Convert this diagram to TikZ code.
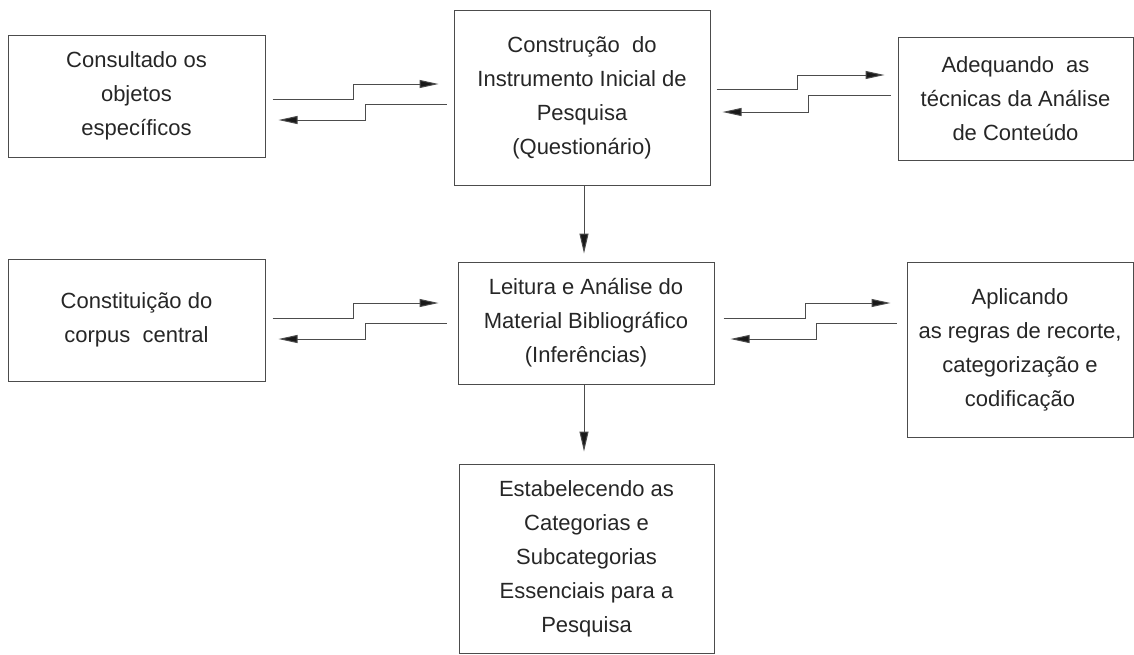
\documentclass[tikz,border=0pt]{standalone}
\usepackage{fontspec}
\setmainfont{Liberation Sans}
\usetikzlibrary{arrows.meta, calc}

\tikzset{
  box/.style={draw=black!70, line width=1pt, align=center, text=black!85,
    font=\fontsize{22}{34}\selectfont, inner sep=3pt},
  flow/.style={draw=black!70, line width=1pt,
    -{Triangle[length=19pt, width=8pt, fill=black!90]}},
}

\begin{document}
\begin{tikzpicture}[x=1pt, y=-1pt]
\useasboundingbox (0,0) rectangle (1134,654);
\node[box, minimum width=257, minimum height=122] (c1) at (136.5,96) {Consultado os\\objetos\\específicos};
\node[box, minimum width=256, minimum height=175] (c2) at (582,97.5) {Construção\ \ do\\Instrumento Inicial de\\Pesquisa\\(Questionário)};
\node[box, minimum width=235, minimum height=123] (c3) at (1015.5,98.5) {Adequando\ \ as\\técnicas da Análise\\de Conteúdo};
\node[box, minimum width=257, minimum height=122] (c4) at (136.5,320) {Constituição do\\corpus\ \ central};
\node[box, minimum width=256, minimum height=122] (c5) at (586,323) {Leitura e Análise do\\Material Bibliográfico\\(Inferências)};
\node[box, minimum width=226, minimum height=175] (c6) at (1020,349.5) {Aplicando\\as regras de recorte,\\categorização e\\codificação};
\node[box, minimum width=255, minimum height=189] (c7) at (586.5,558.5) {Estabelecendo as\\Categorias e\\Subcategorias\\Essenciais para a\\Pesquisa};
% top row
\draw[flow] ($(c1.east)+(7,3)$) -- ++(81,0) |- ($(c2.west)+(-15,-13.5)$);
\draw[flow] ($(c2.west)+(-7,6.5)$) -- ++(-81,0) |- ($(c1.east)+(13,24)$);
\draw[flow] ($(c2.east)+(6,-8.5)$) -- ++(81,0) |- ($(c3.west)+(-13,-23.5)$);
\draw[flow] ($(c3.west)+(-7,-3.5)$) -- ++(-82,0) |- ($(c2.east)+(12,14.5)$);
% middle row
\draw[flow] ($(c4.east)+(7,-2)$) -- ++(81,0) |- ($(c5.west)+(-19,-20)$);
\draw[flow] ($(c5.west)+(-11,0)$) -- ++(-81,0) |- ($(c4.east)+(13,19)$);
\draw[flow] ($(c5.east)+(9,-5)$) -- ++(82,0) |- ($(c6.west)+(-16,-46.5)$);
\draw[flow] ($(c6.west)+(-10,-26.5)$) -- ++(-80,0) |- ($(c5.east)+(16,16)$);
% down
\draw[flow, -{Triangle[length=20pt, width=9pt, fill=black!90]}] ($(c2.south)+(2,0)$) -- ($(c5.north)+(-2,-8)$);
\draw[flow, -{Triangle[length=20pt, width=9pt, fill=black!90]}] ($(c5.south)+(-2,0)$) -- ($(c7.north)+(-2.5,-12)$);
\end{tikzpicture}
\end{document}
